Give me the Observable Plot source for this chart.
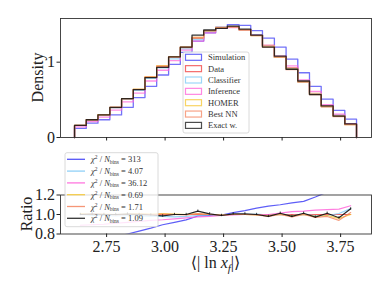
<!DOCTYPE html>
<html><head><meta charset="utf-8">
<script src="https://cdn.jsdelivr.net/npm/d3@7"></script>
<script src="https://cdn.jsdelivr.net/npm/@observablehq/plot@0.6"></script>
<style>
html,body{margin:0;padding:0;background:#fff;}
#chart{position:relative;width:389px;height:292px;overflow:hidden;}
#chart svg{position:absolute;left:0;}
</style></head><body><div id="chart"></div>
<script>
// ---- data ----
const binEdges = [2.613, 2.663, 2.713, 2.764, 2.814, 2.864, 2.914, 2.964, 3.015, 3.065, 3.115, 3.165, 3.216,
  3.266, 3.316, 3.366, 3.416, 3.467, 3.517, 3.567, 3.617, 3.667, 3.718, 3.768, 3.818];
const xTicks = [2.75, 3.00, 3.25, 3.50, 3.75];
const densityTicks = [0, 1];
const ratioTicks = [0.8, 1.0, 1.2];

const seriesNames = ["Simulation", "Data", "Classifier", "Inference", "HOMER", "Best NN", "Exact w."];
const seriesColors = ["#3636f5", "#f03a3a", "#7cc8f5", "#ff5fd8", "#f5c630", "#f4845f", "#111111"];

const histSimulation = [0.12, 0.19, 0.236, 0.30, 0.40, 0.53, 0.68, 0.83, 0.97, 1.13, 1.28, 1.39, 1.45, 1.50, 1.49, 1.42, 1.32, 1.20, 1.04, 0.86, 0.68, 0.51, 0.36, 0.244];
const histData       = [0.16, 0.235, 0.30, 0.40, 0.513, 0.636, 0.80, 0.944, 1.07, 1.20, 1.315, 1.417, 1.465, 1.47, 1.43, 1.36, 1.224, 1.066, 0.924, 0.74, 0.586, 0.415, 0.294, 0.17];
const histClassifier = [0.16, 0.233, 0.297, 0.394, 0.508, 0.627, 0.784, 0.925, 1.043, 1.176, 1.302, 1.41, 1.465, 1.47, 1.43, 1.367, 1.218, 1.066, 0.915, 0.74, 0.58, 0.411, 0.297, 0.18];
const histInference  = [0.142, 0.21, 0.27, 0.364, 0.472, 0.59, 0.75, 0.893, 1.02, 1.16, 1.28, 1.39, 1.45, 1.46, 1.43, 1.36, 1.224, 1.08, 0.95, 0.766, 0.612, 0.436, 0.31, 0.185];
const histHOMER      = [0.162, 0.235, 0.302, 0.40, 0.516, 0.642, 0.804, 0.953, 1.075, 1.20, 1.328, 1.417, 1.458, 1.47, 1.43, 1.353, 1.212, 1.066, 0.91, 0.74, 0.574, 0.411, 0.282, 0.17];
const histBestNN     = [0.16, 0.236, 0.30, 0.398, 0.513, 0.639, 0.80, 0.949, 1.07, 1.194, 1.328, 1.417, 1.458, 1.47, 1.43, 1.353, 1.20, 1.066, 0.90, 0.74, 0.568, 0.407, 0.276, 0.173];
const histExact      = [0.16, 0.236, 0.30, 0.40, 0.516, 0.636, 0.796, 0.93, 1.07, 1.20, 1.36, 1.427, 1.45, 1.48, 1.44, 1.36, 1.20, 1.08, 0.906, 0.75, 0.57, 0.42, 0.284, 0.18];

const ratioSimulation = [0.70, 0.72, 0.74, 0.77, 0.80, 0.83, 0.86, 0.895, 0.92, 0.945, 0.985, 0.99, 0.995, 1.02, 1.04, 1.065, 1.085, 1.10, 1.12, 1.135, 1.18, 1.23, 1.28, 1.35];
const ratioData       = [1, 1, 1, 1, 1, 1, 1, 1, 1, 1, 1, 1, 1, 1, 1, 1, 1, 1, 1, 1, 1, 1, 1, 1];
const ratioClassifier = [1.0, 0.99, 0.99, 0.985, 0.99, 0.985, 0.98, 0.98, 0.975, 0.98, 0.99, 0.995, 1.0, 1.0, 1.0, 1.005, 0.995, 1.0, 0.99, 1.0, 0.99, 0.99, 1.01, 1.06];
const ratioInference  = [0.89, 0.895, 0.90, 0.91, 0.92, 0.93, 0.94, 0.946, 0.955, 0.965, 0.975, 0.98, 0.99, 0.995, 1.0, 1.0, 1.0, 1.015, 1.03, 1.035, 1.045, 1.05, 1.055, 1.09];
const ratioHOMER      = [1.01, 1.0, 1.005, 1.0, 1.005, 1.01, 1.005, 1.01, 1.005, 1.0, 1.01, 1.0, 0.995, 1.0, 1.0, 0.995, 0.99, 1.0, 0.985, 1.0, 0.98, 0.99, 0.96, 1.0];
const ratioBestNN     = [1.0, 1.005, 1.0, 0.995, 1.0, 1.005, 1.0, 1.005, 1.0, 0.995, 1.01, 1.0, 0.995, 1.0, 1.0, 0.995, 0.98, 1.0, 0.975, 1.0, 0.97, 0.98, 0.94, 1.02];
const ratioExact      = [1.0, 1.005, 1.0, 1.0, 1.005, 1.0, 0.995, 0.985, 1.0, 1.0, 1.034, 1.007, 0.99, 1.007, 1.007, 1.0, 0.98, 1.013, 0.98, 1.013, 0.973, 1.013, 0.966, 1.058];

const ratioLegendNames = ["Simulation", "Classifier", "Inference", "HOMER", "Best NN", "Exact w."];
const chi2Values = ["313", "4.07", "36.12", "0.69", "1.71", "1.09"];

// ---- build ----
const hists = [histSimulation, histData, histClassifier, histInference, histHOMER, histBestNN, histExact];
const ratios = {"Simulation": ratioSimulation, "Data": ratioData, "Classifier": ratioClassifier, "Inference": ratioInference, "HOMER": ratioHOMER, "Best NN": ratioBestNN, "Exact w.": ratioExact};
const colorOf = Object.fromEntries(seriesNames.map((n, i) => [n, seriesColors[i]]));
const centers = binEdges.slice(0, -1).map((e, i) => (e + binEdges[i + 1]) / 2);

function stepPoints(vals) {
  const n = vals.length;
  const pts = [{x: binEdges[0], y: 0}];
  vals.forEach((v, i) => pts.push({x: binEdges[i], y: v}));
  pts.push({x: binEdges[n], y: vals[n - 1]});
  pts.push({x: binEdges[n], y: 0});
  return pts;
}

const xDomain = [2.553, 3.882];
const font = "'Liberation Serif', 'DejaVu Serif', serif";
const chart = document.getElementById("chart");

const topMarks = hists.map((vals, i) => Plot.line(stepPoints(vals), {
  x: "x", y: "y", curve: "step-after", stroke: seriesColors[i],
  strokeWidth: 1.3, strokeOpacity: i === 6 ? 0.85 : 0.7
}));

const topPlot = Plot.plot({
  width: 389, height: 145,
  marginLeft: 60, marginRight: 18, marginTop: 18, marginBottom: 8,
  style: {fontFamily: font, fontSize: "16px", color: "#222", background: "transparent"},
  x: {domain: xDomain},
  y: {domain: [0, 1.58]},
  marks: [
    ...topMarks,
    Plot.frame({stroke: "#333", strokeWidth: 0.9}),
    Plot.axisX({ticks: xTicks, tickSize: 3.5, tickFormat: () => "", label: null}),
    Plot.axisY({ticks: densityTicks, tickSize: 3.5, tickPadding: 2, tickFormat: d => String(d), label: null})
  ]
});
topPlot.style.top = "0px";
chart.appendChild(topPlot);

const ratioOrder = ["Data", "Simulation", "Classifier", "Inference", "HOMER", "Best NN", "Exact w."];
const ratioMarks = ratioOrder.map(name => Plot.line(ratios[name].map((r, i) => ({x: centers[i], y: r})), {
  x: "x", y: "y", stroke: colorOf[name], strokeWidth: 1.2,
  strokeOpacity: name === "Exact w." ? 0.9 : 0.8, clip: true
}));
const exactPts = ratioExact.map((r, i) => ({x: centers[i], y: r}));

const botPlot = Plot.plot({
  width: 389, height: 147,
  marginLeft: 60, marginRight: 18, marginTop: 49.5, marginBottom: 58.5,
  style: {fontFamily: font, fontSize: "16px", color: "#222", background: "transparent"},
  x: {domain: xDomain},
  y: {domain: [0.8, 1.2]},
  marks: [
    ...ratioMarks,
    Plot.ruleX(exactPts, {x: "x", y1: d => d.y - 0.012, y2: d => d.y + 0.012, stroke: "#111", strokeWidth: 0.8, clip: true}),
    Plot.frame({stroke: "#333", strokeWidth: 0.9}),
    Plot.axisX({ticks: xTicks, tickSize: 3.5, tickPadding: 3, tickFormat: d3.format(".2f"), label: null}),
    Plot.axisY({ticks: ratioTicks, tickSize: 3.5, tickPadding: 2, tickFormat: d3.format(".1f"), label: null})
  ]
});
botPlot.style.top = "145px";
chart.appendChild(botPlot);

// ---- labels & legends ----
const topSvg = d3.select(topPlot.tagName.toLowerCase() === "svg" ? topPlot : topPlot.querySelector("svg"));
const botSvg = d3.select(botPlot.tagName.toLowerCase() === "svg" ? botPlot : botPlot.querySelector("svg"));

topSvg.append("text").attr("transform", "translate(37,77.5) rotate(-90)")
  .attr("text-anchor", "middle").attr("dominant-baseline", "central")
  .attr("font-size", 16).attr("fill", "#222").attr("font-family", font).text("Density");

botSvg.append("text").attr("transform", "translate(26,69) rotate(-90)")
  .attr("text-anchor", "middle").attr("dominant-baseline", "central")
  .attr("font-size", 16).attr("fill", "#222").attr("font-family", font).text("Ratio");

const xl = botSvg.append("text").attr("x", 215.5).attr("y", 123)
  .attr("text-anchor", "middle").attr("font-size", 16).attr("fill", "#222").attr("font-family", font);
xl.append("tspan").text("⟨| ln ");
xl.append("tspan").attr("font-style", "italic").text("x");
xl.append("tspan").attr("font-style", "italic").attr("font-size", 11).attr("dy", 4).text("f");
xl.append("tspan").attr("dy", -4).text("|⟩");

// top legend
const tl = topSvg.append("g").attr("font-family", font).attr("font-size", 8.5).attr("fill", "#333").attr("text-anchor", "start");
tl.append("rect").attr("x", 183).attr("y", 52).attr("width", 66).attr("height", 81).attr("rx", 2)
  .attr("fill", "#fff").attr("fill-opacity", 0.8).attr("stroke", "#d0d0d0").attr("stroke-width", 0.8);
seriesNames.forEach((name, i) => {
  const cy = 57.3 + i * 11.35;
  tl.append("rect").attr("x", 185.5).attr("y", cy - 3).attr("width", 16).attr("height", 6)
    .attr("fill", "none").attr("stroke", seriesColors[i]).attr("stroke-width", 1.2).attr("stroke-opacity", 0.75);
  tl.append("text").attr("x", 208).attr("y", cy).attr("dominant-baseline", "central").attr("text-anchor", "start").text(name);
});

// ratio legend (coordinates local to bottom svg, offset 145)
const rl = botSvg.append("g").attr("font-family", font).attr("font-size", 8.5).attr("fill", "#333").attr("text-anchor", "start");
rl.append("rect").attr("x", 65).attr("y", 7.7).attr("width", 93).attr("height", 74).attr("rx", 2)
  .attr("fill", "#fff").attr("fill-opacity", 0.8).attr("stroke", "#d0d0d0").attr("stroke-width", 0.8);
ratioLegendNames.forEach((name, i) => {
  const cy = 14.3 + i * 11.8;
  rl.append("line").attr("x1", 67).attr("x2", 85).attr("y1", cy).attr("y2", cy)
    .attr("stroke", colorOf[name]).attr("stroke-width", 1.3).attr("stroke-opacity", 0.85);
  const t = rl.append("text").attr("x", 91).attr("y", cy + 3).attr("text-anchor", "start");
  t.append("tspan").attr("font-style", "italic").text("χ");
  t.append("tspan").attr("font-size", 5.5).attr("dy", -3).text("2");
  t.append("tspan").attr("dy", 3).text(" / ");
  t.append("tspan").attr("font-style", "italic").text("N");
  t.append("tspan").attr("font-size", 5.5).attr("dy", 1.5).text("bins");
  t.append("tspan").attr("dy", -1.5).text(" = " + chi2Values[i]);
});
</script></body></html>
